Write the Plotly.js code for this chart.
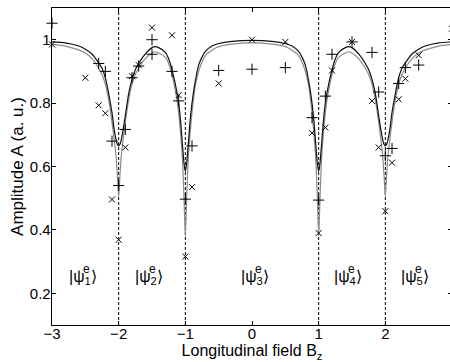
<!DOCTYPE html>
<html><head><meta charset="utf-8">
<script src="https://cdn.plot.ly/plotly-3.0.1.min.js"></script>
<style>html,body{margin:0;padding:0;overflow:hidden;background:#fff}#plot{width:452px;height:362px}</style>
</head><body><div id="plot"></div><script>
// Fitted curves
const curveX = [-3,-2.8,-2.6,-2.5,-2.4,-2.3,-2.25,-2.2,-2.15,-2.1,-2.07,-2.04,-2.02,-2,-1.98,-1.96,-1.93,-1.9,-1.85,-1.8,-1.75,-1.7,-1.6,-1.5,-1.45,-1.4,-1.3,-1.25,-1.2,-1.15,-1.1,-1.07,-1.04,-1.02,-1,-0.98,-0.96,-0.93,-0.9,-0.85,-0.8,-0.75,-0.7,-0.6,-0.5,-0.3,0,
0.3,0.5,0.6,0.7,0.75,0.8,0.85,0.9,0.93,0.96,0.98,1,1.02,1.04,1.07,1.1,1.15,1.2,1.25,1.3,1.4,1.45,1.5,1.6,1.7,1.75,1.8,1.85,1.9,1.93,1.96,1.98,2,2.02,2.04,2.07,2.1,2.15,2.2,2.25,2.3,2.4,2.5,2.6,2.8,3];
const fitBlack = [0.993,0.99,0.98,0.97,0.955,0.927,0.91,0.88,0.83,0.77,0.72,0.685,0.67,0.665,0.67,0.685,0.72,0.76,0.83,0.875,0.905,0.925,0.955,0.975,0.978,0.975,0.96,0.94,0.905,0.86,0.80,0.74,0.66,0.61,0.585,0.61,0.66,0.74,0.80,0.87,0.92,0.945,0.963,0.98,0.988,0.995,0.998,
0.995,0.988,0.98,0.963,0.945,0.92,0.87,0.80,0.74,0.66,0.61,0.585,0.61,0.66,0.74,0.80,0.86,0.905,0.94,0.96,0.975,0.978,0.975,0.955,0.925,0.905,0.875,0.83,0.76,0.72,0.685,0.67,0.665,0.67,0.685,0.72,0.77,0.83,0.88,0.91,0.927,0.955,0.97,0.98,0.99,0.993];
const fitGray = [0.985,0.98,0.968,0.958,0.94,0.91,0.89,0.86,0.81,0.74,0.69,0.635,0.575,0.505,0.575,0.635,0.69,0.74,0.81,0.86,0.89,0.91,0.94,0.958,0.962,0.958,0.945,0.925,0.89,0.84,0.77,0.70,0.61,0.50,0.38,0.50,0.61,0.70,0.77,0.855,0.90,0.93,0.95,0.967,0.978,0.986,0.99,
0.986,0.978,0.967,0.95,0.93,0.90,0.855,0.77,0.70,0.61,0.50,0.38,0.50,0.61,0.70,0.77,0.84,0.89,0.925,0.945,0.958,0.962,0.958,0.94,0.91,0.89,0.86,0.81,0.74,0.69,0.635,0.575,0.505,0.575,0.635,0.69,0.74,0.81,0.86,0.89,0.91,0.94,0.958,0.968,0.98,0.985];

// Measured data
const plusX = [-3,-2.3,-2.2,-2.1,-2,-1.9,-1.8,-1.7,-1.5,-1.5,-1.2,-1.1,-1,-0.9,-0.5,0,0.5,0.9,1,1.1,1.2,1.5,1.8,1.9,2,2.1,2.2,2.3,2.5];
const plusY = [1.052,0.925,0.9,0.68,0.54,0.717,0.88,0.917,1.0,0.954,0.9,0.807,0.497,0.665,0.903,0.907,0.912,0.754,0.494,0.822,0.954,0.993,0.96,0.835,0.634,0.657,0.862,0.912,0.92];
const crossX = [-3,-2.5,-2.3,-2.2,-2.1,-2,-1.9,-1.8,-1.7,-1.5,-1.2,-1.1,-1,-0.9,-0.5,0,0.5,0.9,1,1.1,1.2,1.5,1.8,1.9,2,2.1,2.2,2.3,2.5,3];
const crossY = [0.985,0.88,0.793,0.768,0.496,0.369,0.66,0.885,0.92,1.038,1.014,0.825,0.316,0.535,0.862,1.0,0.993,0.706,0.39,0.723,0.903,0.993,0.807,0.66,0.459,0.612,0.812,0.877,0.951,1.035];

const resonanceX = [-2,-1,1,2];
const stateIdx = ['1','2','3','4','5'];
const stateX = [-2.78,-1.78,-0.2,1.2,2.2];
const stateY = 0.25;

const xTickVals = [-3,-2,-1,0,1,2,3];
const xTickText = ['\u22123','\u22122','\u22121','0','1','2','3'];
const yTickVals = [0.2,0.4,0.6,0.8,1];
const yTickText = ['0.2','0.4','0.6','0.8','1'];

const FONT = 'Liberation Sans, Arial, Helvetica, sans-serif';

const traces = [
  {x: curveX, y: fitGray, mode:'lines', line:{color:'#8a8a8a', width:1.2, shape:'spline', smoothing:0.6}, hoverinfo:'skip'},
  {x: curveX, y: fitBlack, mode:'lines', line:{color:'#111', width:1.2, shape:'spline', smoothing:0.6}, hoverinfo:'skip'},
  {x: plusX, y: plusY, mode:'markers', cliponaxis:false, marker:{symbol:'cross-thin', size:8, line:{color:'#000', width:1}}},
  {x: crossX, y: crossY, mode:'markers', cliponaxis:false, marker:{symbol:'x-thin', size:6, line:{color:'#000', width:1}}}
];

const shapes = resonanceX.map(v => ({type:'line', xref:'x', yref:'paper', x0:v, x1:v, y0:0, y1:1, line:{color:'#000', width:1, dash:'3px,2px'}, layer:'below'}));

const annotations = [];
stateIdx.forEach((n,i) => {
  annotations.push({x: stateX[i], y: stateY, xref:'x', yref:'y', xanchor:'left', yanchor:'middle', showarrow:false,
    text:'|\u03c8<sub>'+n+'</sub>\u27e9', font:{family:FONT, size:16, color:'#000'}});
  annotations.push({x: stateX[i], y: stateY, xref:'x', yref:'y', xanchor:'left', yanchor:'middle', showarrow:false,
    xshift:14, yshift:8, text:'e', font:{family:FONT, size:12, color:'#000'}});
});

const layout = {
  width:452, height:362,
  margin:{l:52, r:0, t:8, b:37},
  paper_bgcolor:'#fff', plot_bgcolor:'#fff',
  showlegend:false,
  font:{family:FONT, size:16, color:'#000'},
  xaxis:{range:[-3,3], tickvals:xTickVals, ticktext:xTickText, ticks:'inside', ticklen:4, tickcolor:'#000',
    showline:true, linecolor:'#000', linewidth:1.3, mirror:'ticks', showgrid:false, zeroline:false,
    ticklabelstandoff:-5,
    tickfont:{family:FONT, size:15}, title:{text:'Longitudinal field B<sub>z</sub>', font:{family:FONT, size:16}, standoff:0}},
  yaxis:{range:[0.1,1.1], tickvals:yTickVals, ticktext:yTickText, ticks:'inside', ticklen:4, tickcolor:'#000',
    showline:true, linecolor:'#000', linewidth:1.3, mirror:'ticks', showgrid:false, zeroline:false,
    ticklabelstandoff:-3,
    tickfont:{family:FONT, size:15}, title:{text:'Amplitude A (a. u.)', font:{family:FONT, size:17}, standoff:2}},
  shapes: shapes,
  annotations: annotations
};

Plotly.newPlot('plot', traces, layout, {staticPlot:true, displayModeBar:false});
</script></body></html>
